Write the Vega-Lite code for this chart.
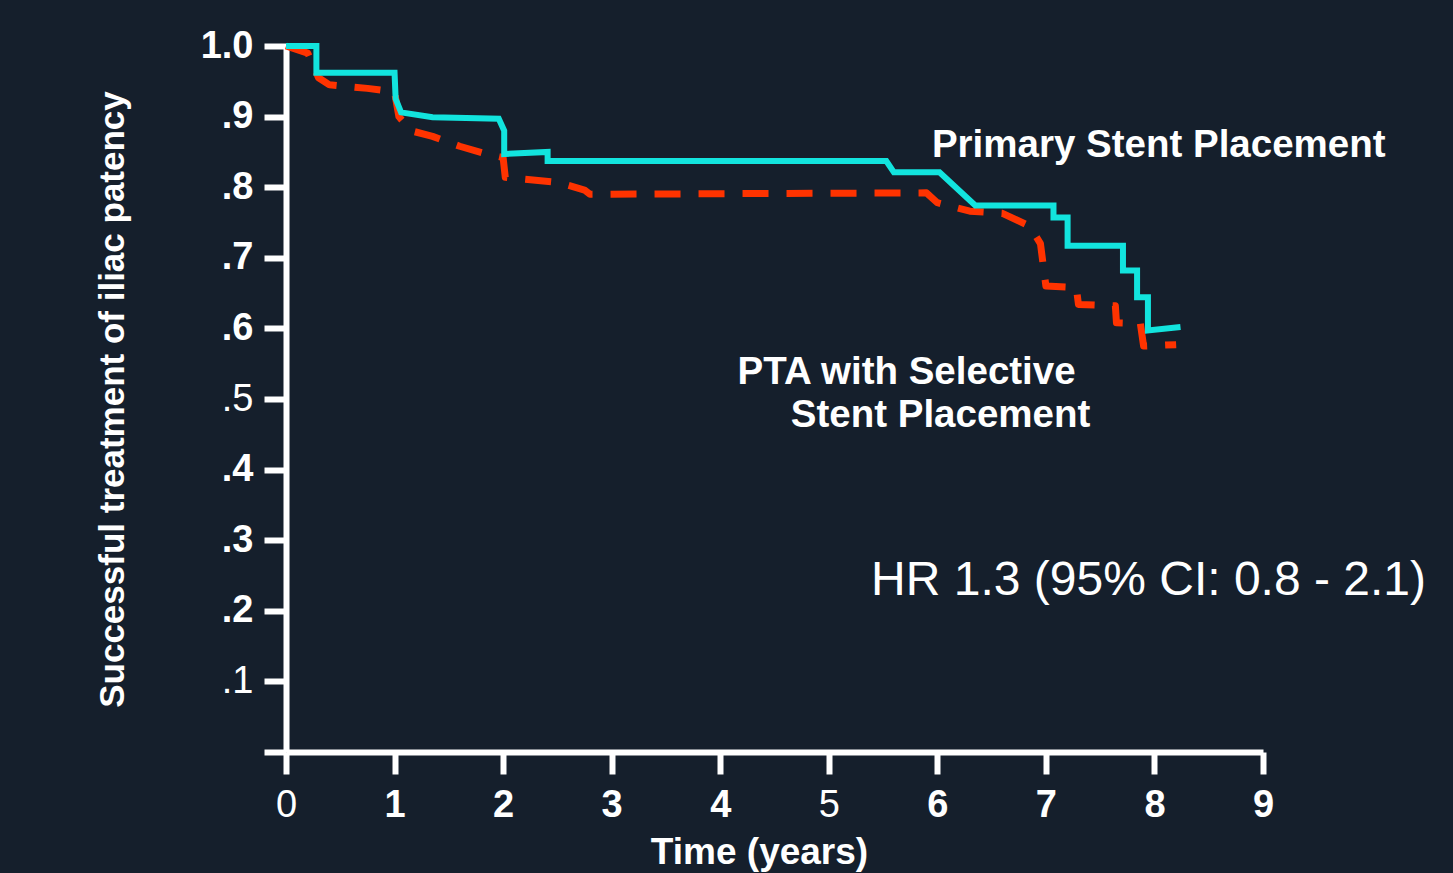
{
  "$schema": "https://vega.github.io/schema/vega-lite/v6.json",
  "width": 977,
  "height": 706,
  "autosize": "none",
  "padding": {"left": 286, "top": 46, "right": 190, "bottom": 121},
  "background": "#151f2c",
  "config": {
    "view": {"stroke": null},
    "font": "Liberation Sans",
    "axis": {
      "grid": false,
      "domainColor": "#ffffff",
      "domainWidth": 6,
      "tickColor": "#ffffff",
      "tickWidth": 6,
      "tickSize": 22,
      "labelColor": "#ffffff",
      "labelFont": "Liberation Sans",
      "labelFontSize": 38,
      "titleColor": "#ffffff",
      "titleFont": "Liberation Sans",
      "titleFontWeight": "bold"
    }
  },
  "datasets": {
    "curves": [
      {"group": "PTA with Selective Stent Placement", "t": 0.0, "s": 1.0},
      {"group": "PTA with Selective Stent Placement", "t": 0.2, "s": 0.99},
      {"group": "PTA with Selective Stent Placement", "t": 0.3, "s": 0.955},
      {"group": "PTA with Selective Stent Placement", "t": 0.4, "s": 0.945},
      {"group": "PTA with Selective Stent Placement", "t": 0.75, "s": 0.94},
      {"group": "PTA with Selective Stent Placement", "t": 1.0, "s": 0.935},
      {"group": "PTA with Selective Stent Placement", "t": 1.04, "s": 0.9},
      {"group": "PTA with Selective Stent Placement", "t": 1.15, "s": 0.88},
      {"group": "PTA with Selective Stent Placement", "t": 1.35, "s": 0.872},
      {"group": "PTA with Selective Stent Placement", "t": 1.6, "s": 0.858},
      {"group": "PTA with Selective Stent Placement", "t": 1.85, "s": 0.847},
      {"group": "PTA with Selective Stent Placement", "t": 2.0, "s": 0.842},
      {"group": "PTA with Selective Stent Placement", "t": 2.02, "s": 0.814},
      {"group": "PTA with Selective Stent Placement", "t": 2.5, "s": 0.807},
      {"group": "PTA with Selective Stent Placement", "t": 2.75, "s": 0.796},
      {"group": "PTA with Selective Stent Placement", "t": 2.8, "s": 0.79},
      {"group": "PTA with Selective Stent Placement", "t": 5.9, "s": 0.792},
      {"group": "PTA with Selective Stent Placement", "t": 6.0, "s": 0.778},
      {"group": "PTA with Selective Stent Placement", "t": 6.3, "s": 0.766},
      {"group": "PTA with Selective Stent Placement", "t": 6.6, "s": 0.763},
      {"group": "PTA with Selective Stent Placement", "t": 6.85, "s": 0.745},
      {"group": "PTA with Selective Stent Placement", "t": 6.95, "s": 0.72},
      {"group": "PTA with Selective Stent Placement", "t": 7.0, "s": 0.66},
      {"group": "PTA with Selective Stent Placement", "t": 7.28, "s": 0.658},
      {"group": "PTA with Selective Stent Placement", "t": 7.3, "s": 0.634},
      {"group": "PTA with Selective Stent Placement", "t": 7.64, "s": 0.632},
      {"group": "PTA with Selective Stent Placement", "t": 7.65, "s": 0.608},
      {"group": "PTA with Selective Stent Placement", "t": 7.87, "s": 0.607},
      {"group": "PTA with Selective Stent Placement", "t": 7.9, "s": 0.575},
      {"group": "PTA with Selective Stent Placement", "t": 8.2, "s": 0.577},
      {"group": "Primary Stent Placement", "t": 0.0, "s": 1.0},
      {"group": "Primary Stent Placement", "t": 0.28, "s": 1.0},
      {"group": "Primary Stent Placement", "t": 0.28, "s": 0.962},
      {"group": "Primary Stent Placement", "t": 1.0, "s": 0.962},
      {"group": "Primary Stent Placement", "t": 1.01, "s": 0.925},
      {"group": "Primary Stent Placement", "t": 1.06, "s": 0.906},
      {"group": "Primary Stent Placement", "t": 1.35, "s": 0.899},
      {"group": "Primary Stent Placement", "t": 1.96, "s": 0.897},
      {"group": "Primary Stent Placement", "t": 2.01, "s": 0.88},
      {"group": "Primary Stent Placement", "t": 2.01, "s": 0.847},
      {"group": "Primary Stent Placement", "t": 2.41, "s": 0.85},
      {"group": "Primary Stent Placement", "t": 2.41, "s": 0.837},
      {"group": "Primary Stent Placement", "t": 5.53, "s": 0.837},
      {"group": "Primary Stent Placement", "t": 5.6, "s": 0.821},
      {"group": "Primary Stent Placement", "t": 6.02, "s": 0.821},
      {"group": "Primary Stent Placement", "t": 6.35, "s": 0.774},
      {"group": "Primary Stent Placement", "t": 7.07, "s": 0.774},
      {"group": "Primary Stent Placement", "t": 7.07, "s": 0.757},
      {"group": "Primary Stent Placement", "t": 7.2, "s": 0.757},
      {"group": "Primary Stent Placement", "t": 7.2, "s": 0.717},
      {"group": "Primary Stent Placement", "t": 7.71, "s": 0.717},
      {"group": "Primary Stent Placement", "t": 7.71, "s": 0.682},
      {"group": "Primary Stent Placement", "t": 7.84, "s": 0.682},
      {"group": "Primary Stent Placement", "t": 7.84, "s": 0.644},
      {"group": "Primary Stent Placement", "t": 7.94, "s": 0.644},
      {"group": "Primary Stent Placement", "t": 7.94, "s": 0.597},
      {"group": "Primary Stent Placement", "t": 8.24, "s": 0.602}
    ]
  },
  "layer": [
    {
      "data": {"name": "curves"},
      "transform": [{"filter": "datum.group == 'PTA with Selective Stent Placement'"}],
      "mark": {"type": "line", "color": "#ff3300", "strokeWidth": 7, "strokeDash": [26, 18], "strokeCap": "butt", "strokeJoin": "round"},
      "encoding": {
        "x": {
          "field": "t", "type": "quantitative",
          "scale": {"domain": [0, 9], "nice": false, "zero": true},
          "axis": {
            "title": "Time (years)",
            "titleFontSize": 37,
            "titlePadding": 10,
            "titleX": 473,
            "values": [0, 1, 2, 3, 4, 5, 6, 7, 8, 9],
            "format": "d",
            "labelPadding": 12,
            "labelFlush": false,
            "labelFontWeight": {"condition": {"test": "datum.value == 0 || datum.value == 5", "value": "normal"}, "value": "bold"}
          }
        },
        "y": {
          "field": "s", "type": "quantitative",
          "scale": {"domain": [0, 1], "nice": false},
          "axis": {
            "title": "Successful treatment of iliac patency",
            "titleFontSize": 35,
            "titlePadding": 70,
            "values": [0, 0.1, 0.2, 0.3, 0.4, 0.5, 0.6, 0.7, 0.8, 0.9, 1.0],
            "labelExpr": "datum.value == 0 ? '' : (datum.value == 1 ? '1.0' : '.' + format(datum.value * 10, 'd'))",
            "labelPadding": 11,
            "labelFlush": false,
            "labelFontWeight": {"condition": {"test": "abs(datum.value - 0.5) < 0.01 || abs(datum.value - 0.1) < 0.01", "value": "normal"}, "value": "bold"}
          }
        },
        "order": {"value": null}
      }
    },
    {
      "data": {"name": "curves"},
      "transform": [{"filter": "datum.group == 'Primary Stent Placement'"}],
      "mark": {"type": "line", "color": "#12e4de", "strokeWidth": 6, "strokeJoin": "miter"},
      "encoding": {
        "x": {"field": "t", "type": "quantitative"},
        "y": {"field": "s", "type": "quantitative"},
        "order": {"value": null}
      }
    },
    {
      "data": {"values": [{"label": "Primary Stent Placement"}]},
      "mark": {"type": "text", "align": "left", "baseline": "alphabetic", "fontSize": 38.5, "fontWeight": "bold", "color": "#ffffff"},
      "encoding": {"x": {"datum": 5.95}, "y": {"datum": 0.843}, "text": {"field": "label"}}
    },
    {
      "data": {"values": [{"label": "PTA with Selective"}]},
      "mark": {"type": "text", "align": "left", "baseline": "alphabetic", "fontSize": 38.5, "fontWeight": "bold", "color": "#ffffff"},
      "encoding": {"x": {"datum": 4.16}, "y": {"datum": 0.521}, "text": {"field": "label"}}
    },
    {
      "data": {"values": [{"label": "Stent Placement"}]},
      "mark": {"type": "text", "align": "left", "baseline": "alphabetic", "fontSize": 38.5, "fontWeight": "bold", "color": "#ffffff"},
      "encoding": {"x": {"datum": 4.65}, "y": {"datum": 0.461}, "text": {"field": "label"}}
    },
    {
      "data": {"values": [{"label": "HR 1.3 (95% CI: 0.8 - 2.1)"}]},
      "mark": {"type": "text", "align": "left", "baseline": "alphabetic", "fontSize": 48, "fontWeight": "normal", "color": "#ffffff"},
      "encoding": {"x": {"datum": 5.39}, "y": {"datum": 0.223}, "text": {"field": "label"}}
    }
  ]
}
